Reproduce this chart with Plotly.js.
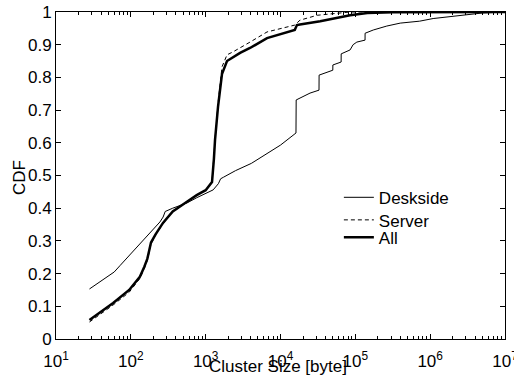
<!DOCTYPE html>
<html>
<head>
<meta charset="utf-8">
<script src="https://cdn.plot.ly/plotly-3.0.1.min.js"></script>
<style>html,body{margin:0;padding:0;background:#fff;overflow:hidden}#chart{width:514px;height:379px}</style>
</head>
<body>
<div id="chart"></div>
<script>
// Cluster size [byte] and CDF values
var desksideX = [28, 60, 72, 117, 145, 245, 270, 288, 363, 562, 759, 1000, 1259, 1479, 1585, 1738, 2512, 4074, 7943, 10000, 16100, 16200, 24800, 32700, 32800, 45900, 50000, 50100, 64600, 64700, 85100, 93300, 104700, 134900, 135000, 173800, 263000, 398000, 724000, 1096000, 5012000, 10000000];
var desksideY = [0.153, 0.205, 0.225, 0.278, 0.301, 0.358, 0.373, 0.39, 0.40, 0.416, 0.432, 0.445, 0.456, 0.475, 0.49, 0.495, 0.515, 0.537, 0.578, 0.593, 0.63, 0.731, 0.752, 0.761, 0.807, 0.82, 0.822, 0.838, 0.847, 0.872, 0.884, 0.90, 0.908, 0.914, 0.935, 0.945, 0.957, 0.966, 0.972, 0.98, 0.997, 1.0];

var serverX = [28, 58, 95, 132, 151, 166, 186, 214, 269, 363, 562, 759, 1000, 1216, 1334, 1462, 1652, 1928, 2317, 3311, 3917, 6607, 15500, 18200, 30900, 85100, 10000000];
var serverY = [0.052, 0.104, 0.143, 0.185, 0.215, 0.24, 0.29, 0.318, 0.352, 0.388, 0.42, 0.44, 0.455, 0.48, 0.61, 0.72, 0.832, 0.869, 0.878, 0.90, 0.908, 0.939, 0.96, 0.975, 0.99, 1.0, 1.0];

var allX = [28, 58, 95, 132, 151, 166, 186, 214, 269, 363, 562, 759, 1000, 1216, 1288, 1334, 1462, 1652, 1928, 2317, 2884, 3917, 6607, 15500, 16600, 18200, 30900, 33900, 85100, 144500, 316000, 10000000];
var allY = [0.058, 0.11, 0.15, 0.19, 0.22, 0.245, 0.295, 0.32, 0.355, 0.39, 0.42, 0.44, 0.455, 0.48, 0.55, 0.609, 0.71, 0.81, 0.85, 0.862, 0.875, 0.89, 0.92, 0.945, 0.96, 0.962, 0.969, 0.972, 0.99, 0.997, 0.999, 1.0];

var seriesNames = ["Deskside", "Server", "All"];
var xTickVals = [10, 100, 1000, 10000, 100000, 1000000, 10000000];
var xTickText = ["10<sup>1</sup>", "10<sup>2</sup>", "10<sup>3</sup>", "10<sup>4</sup>", "10<sup>5</sup>", "10<sup>6</sup>", "10<sup>7</sup>"];
var xMinorVals = [];
[10, 100, 1000, 10000, 100000, 1000000].forEach(function (d) {
  for (var k = 2; k <= 9; k++) xMinorVals.push(d * k);
});
var xTitle = "Cluster Size [byte]";
var yTitle = "CDF";

var FONT = "Liberation Sans, Arial, Helvetica, sans-serif";
var FS = 17;

var traces = [
  {x: desksideX, y: desksideY, name: seriesNames[0], legend: "legend", mode: "lines", line: {color: "#000", width: 1}},
  {x: serverX, y: serverY, name: seriesNames[1], legend: "legend2", mode: "lines", line: {color: "#000", width: 1, dash: "4px,3px"}},
  {x: allX, y: allY, name: seriesNames[2], legend: "legend3", mode: "lines", line: {color: "#000", width: 2.5}}
];

function leg(y) {
  return {x: 0.63, y: y, xanchor: "left", yanchor: "top", bgcolor: "rgba(0,0,0,0)", borderwidth: 0, font: {family: FONT, size: FS, color: "#000"}};
}

var layout = {
  width: 514, height: 379,
  margin: {l: 56, r: 9, t: 12, b: 40, pad: 0},
  paper_bgcolor: "#fff", plot_bgcolor: "#fff",
  font: {family: FONT, size: FS, color: "#000"},
  showlegend: true,
  legend: leg(0.487),
  legend2: leg(0.418),
  legend3: leg(0.365),
  xaxis: {
    type: "log", range: [1, 7.00001], showgrid: false, zeroline: false,
    showline: true, linecolor: "#000", linewidth: 1, mirror: "ticks",
    ticks: "inside", ticklen: 5, tickwidth: 1, tickcolor: "#000",
    tickmode: "array", tickvals: xTickVals, ticktext: xTickText,
    ticklabelstandoff: 7, ticklabeloverflow: "allow",
    tickfont: {family: FONT, size: FS, color: "#000"},
    minor: {tickmode: "array", tickvals: xMinorVals, ticks: "inside", ticklen: 3, tickwidth: 1, tickcolor: "#000", showgrid: false}
  },
  yaxis: {
    range: [0, 1], dtick: 0.1, tick0: 0, showgrid: false, zeroline: false,
    showline: true, linecolor: "#000", linewidth: 1, mirror: "ticks",
    ticks: "inside", ticklen: 5, tickwidth: 1, tickcolor: "#000",
    tickfont: {family: FONT, size: FS, color: "#000"}
  },
  annotations: [
    {text: xTitle, xref: "paper", yref: "paper", x: 0.4955, y: -0.0826, xanchor: "center", yanchor: "middle", showarrow: false, font: {family: FONT, size: FS, color: "#000"}},
    {text: yTitle, xref: "paper", yref: "paper", x: -0.0824, y: 0.492, xanchor: "center", yanchor: "middle", textangle: -90, showarrow: false, font: {family: FONT, size: FS, color: "#000"}}
  ]
};

Plotly.newPlot("chart", traces, layout, {displayModeBar: false, staticPlot: true});
</script>
</body>
</html>
